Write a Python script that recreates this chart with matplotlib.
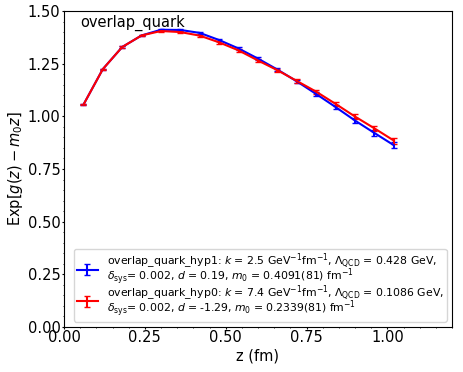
import numpy as np
import matplotlib
matplotlib.use('Agg')
import matplotlib.pyplot as plt
from matplotlib.ticker import MultipleLocator, AutoMinorLocator

# ------------------------------------------------------------------------------
z = [0.06, 0.12, 0.18, 0.24, 0.30, 0.36, 0.42, 0.48, 0.54,
     0.60, 0.66, 0.72, 0.78, 0.84, 0.90, 0.96, 1.02]

hyp1 = [1.055, 1.224, 1.329, 1.384, 1.411, 1.410, 1.396, 1.362, 1.322,
        1.274, 1.222, 1.166, 1.106, 1.044, 0.980, 0.921, 0.863]
hyp1_err = [0.002, 0.003, 0.004, 0.004, 0.005, 0.005, 0.005, 0.006, 0.006,
            0.007, 0.007, 0.008, 0.009, 0.010, 0.011, 0.012, 0.013]

hyp0 = [1.055, 1.224, 1.329, 1.384, 1.405, 1.400, 1.383, 1.351, 1.313,
        1.265, 1.219, 1.168, 1.117, 1.059, 0.999, 0.943, 0.885]
hyp0_err = [0.002, 0.003, 0.004, 0.004, 0.005, 0.005, 0.005, 0.006, 0.006,
            0.007, 0.007, 0.008, 0.009, 0.010, 0.011, 0.012, 0.014]

label1 = (r'overlap_quark_hyp1: $k$ = 2.5 GeV$^{-1}$fm$^{-1}$, $\Lambda_{\rm QCD}$ = 0.428 GeV,'
          '\n' r'$\delta_{\rm sys}$= 0.002, $d$ = 0.19, $m_0$ = 0.4091(81) fm$^{-1}$')
label0 = (r'overlap_quark_hyp0: $k$ = 7.4 GeV$^{-1}$fm$^{-1}$, $\Lambda_{\rm QCD}$ = 0.1086 GeV,'
          '\n' r'$\delta_{\rm sys}$= 0.002, $d$ = -1.29, $m_0$ = 0.2339(81) fm$^{-1}$')

fig, ax = plt.subplots(figsize=(4.63, 3.72), dpi=100)
plt.subplots_adjust(left=64/463, right=452/463, top=1-11/372, bottom=1-327/372)

ax.errorbar(z, hyp1, yerr=hyp1_err, color='b', capsize=2.5, label=label1)
ax.errorbar(z, hyp0, yerr=hyp0_err, color='r', capsize=2.5, label=label0)

ax.text(0.041, 0.988, 'overlap_quark', transform=ax.transAxes,
        fontsize=10.5, va='top', ha='left')

ax.set_xlim(0, 1.2)
ax.set_ylim(0, 1.5)
ax.xaxis.set_major_locator(MultipleLocator(0.25))
ax.yaxis.set_major_locator(MultipleLocator(0.25))
ax.xaxis.set_minor_locator(AutoMinorLocator(5))
ax.yaxis.set_minor_locator(AutoMinorLocator(5))
ax.tick_params(which='major', labelsize=10.5, length=1.5, pad=1)
ax.tick_params(which='minor', length=1)
ax.set_xlabel('z (fm)', fontsize=10.5, labelpad=2)
ax.set_ylabel(r'Exp[$g(z) - m_0 z$]', fontsize=10.5, labelpad=2)
leg = ax.legend(loc='lower right', fontsize=7.8, labelspacing=-0.38,
                borderpad=0.25)
for t in leg.get_texts():
    t.set_linespacing(0.65)

plt.savefig('out.png')
